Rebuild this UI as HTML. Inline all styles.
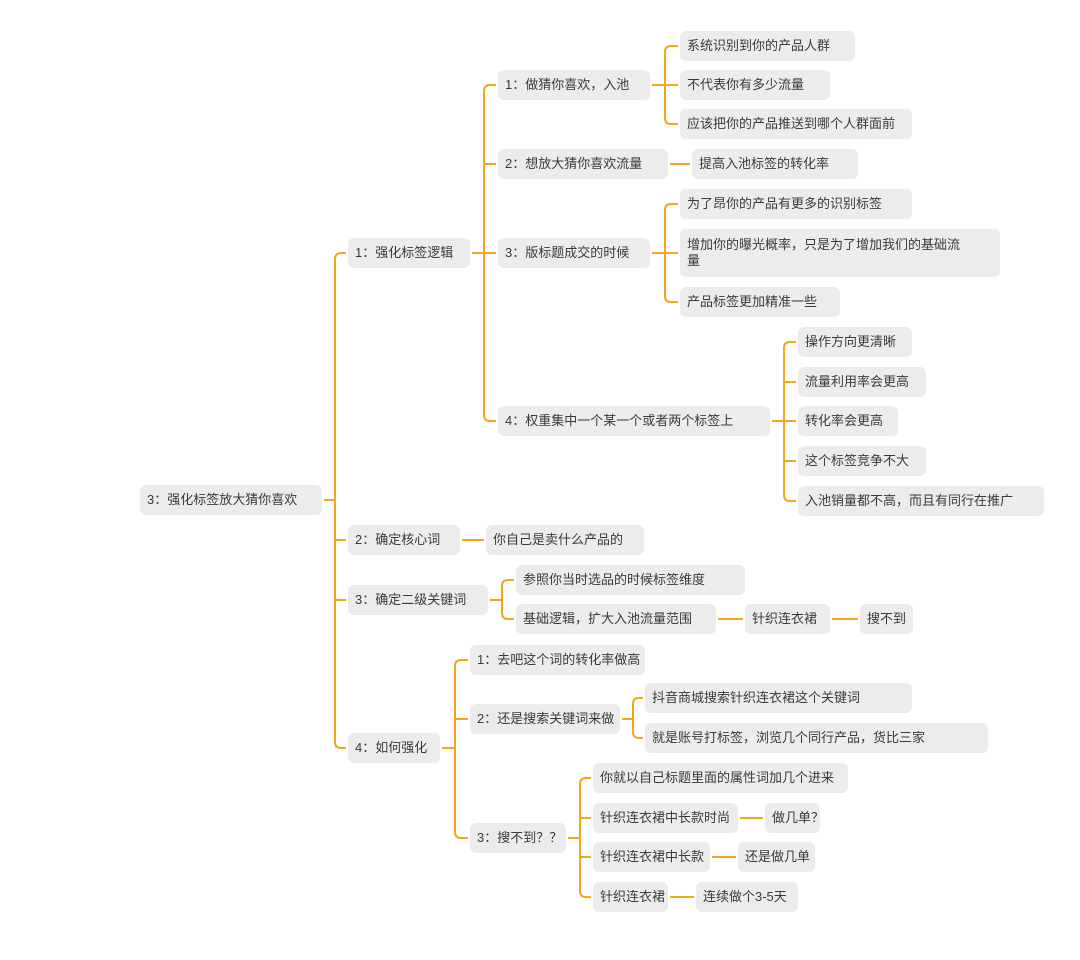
<!DOCTYPE html>
<html><head><meta charset="utf-8"><style>
html,body{margin:0;padding:0;background:#fff;width:1080px;height:960px;overflow:hidden;}
.n{position:absolute;background:#ececec;border-radius:6px;font:13px "Liberation Sans","Noto Sans CJK SC",sans-serif;color:#3a3a3a;box-sizing:border-box;padding:0 7px;white-space:nowrap;display:flex;align-items:center;}
svg{position:absolute;left:0;top:0;}
</style></head><body>
<svg id="s" width="1080" height="960"></svg>
<div id="c"></div>
<script>
var N={
r:[140,500,182,"3：强化标签放大猜你喜欢"],
a:[348,253,122,"1：强化标签逻辑","r"],
b:[348,540,112,"2：确定核心词","r"],
c:[348,600,140,"3：确定二级关键词","r"],
d:[348,748,92,"4：如何强化","r"],
a1:[498,85,152,"1：做猜你喜欢，入池","a"],
a2:[498,164,170,"2：想放大猜你喜欢流量","a"],
a3:[498,253,152,"3：版标题成交的时候","a"],
a4:[498,421,272,"4：权重集中一个某一个或者两个标签上","a"],
a11:[680,46,175,"系统识别到你的产品人群","a1"],
a12:[680,85,150,"不代表你有多少流量","a1"],
a13:[680,124,232,"应该把你的产品推送到哪个人群面前","a1"],
a21:[692,164,166,"提高入池标签的转化率","a2"],
a31:[680,204,232,"为了昂你的产品有更多的识别标签","a3"],
a32:[680,253,320,"增加你的曝光概率，只是为了增加我们的基础流<br>量","a3",48],
a33:[680,302,160,"产品标签更加精准一些","a3"],
a41:[798,342,114,"操作方向更清晰","a4"],
a42:[798,382,128,"流量利用率会更高","a4"],
a43:[798,421,100,"转化率会更高","a4"],
a44:[798,461,128,"这个标签竞争不大","a4"],
a45:[798,501,246,"入池销量都不高，而且有同行在推广","a4"],
b1:[486,540,158,"你自己是卖什么产品的","b"],
c1:[516,580,229,"参照你当时选品的时候标签维度","c"],
c2:[516,619,200,"基础逻辑，扩大入池流量范围","c"],
c21:[745,619,85,"针织连衣裙","c2"],
c22:[860,619,53,"搜不到","c21"],
d1:[470,660,175,"1：去吧这个词的转化率做高","d"],
d2:[470,719,150,"2：还是搜索关键词来做","d"],
d3:[470,838,96,"3：搜不到？？","d"],
d21:[645,698,267,"抖音商城搜索针织连衣裙这个关键词","d2"],
d22:[645,738,343,"就是账号打标签，浏览几个同行产品，货比三家","d2"],
d31:[593,778,255,"你就以自己标题里面的属性词加几个进来","d3"],
d32:[593,818,145,"针织连衣裙中长款时尚","d3"],
d33:[593,857,117,"针织连衣裙中长款","d3"],
d34:[593,897,75,"针织连衣裙","d3"],
d321:[765,818,55,"做几单？","d32"],
d331:[738,857,77,"还是做几单","d33"],
d341:[696,897,102,"连续做个3-5天","d34"]
};
var h='',p='',kids={};
for(var k in N){var v=N[k],hh=v[5]||30;h+='<div class="n" style="left:'+v[0]+'px;top:'+(v[1]-hh/2)+'px;width:'+v[2]+'px;height:'+hh+'px;line-height:16px">'+v[3]+'</div>';if(v[4]){(kids[v[4]]=kids[v[4]]||[]).push(k);}}
document.getElementById('c').innerHTML=h;
for(var k in kids){var P=N[k],ks=kids[k],px=P[0]+P[2]+2,py=P[1],cx=N[ks[0]][0]-2;
 if(ks.length==1){p+='M'+px+' '+py+'H'+cx;continue;}
 var tx=Math.round((P[0]+P[2]+cx)/2)+1;p+='M'+px+' '+py+'H'+tx;
 var ys=ks.map(function(q){return N[q][1]});var y0=Math.min.apply(0,ys),y1=Math.max.apply(0,ys),r=6;
 p+='M'+cx+' '+y0+'H'+(tx+r)+'Q'+tx+' '+y0+' '+tx+' '+(y0+r)+'V'+(y1-r)+'Q'+tx+' '+y1+' '+(tx+r)+' '+y1+'H'+cx;
 ys.forEach(function(y){if(y!=y0&&y!=y1)p+='M'+tx+' '+y+'H'+cx;});}
document.getElementById('s').innerHTML='<path d="'+p+'" fill="none" stroke="#f2a71b" stroke-width="2"/>';
</script>
</body></html>
